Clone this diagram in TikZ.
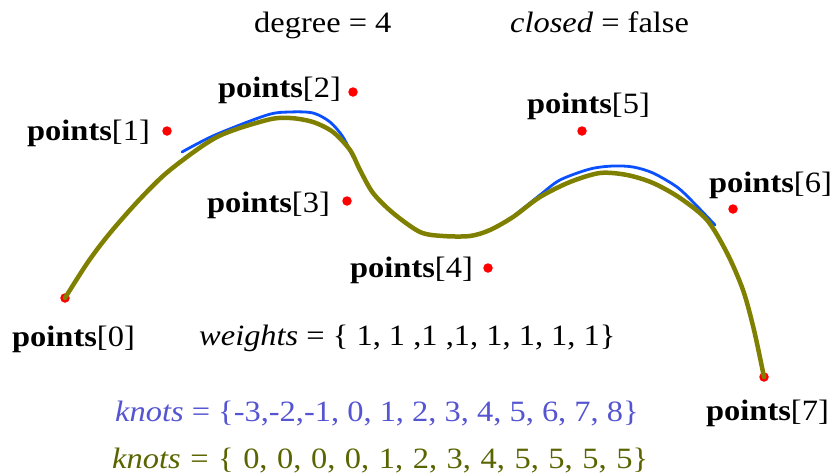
\documentclass[tikz,border=0pt]{standalone}
\usepackage{fontspec}
\setmainfont{Liberation Serif}[FakeStretch=1.1]
\newfontfamily\widespaced{Liberation Serif}[FakeStretch=1.1,WordSpace=1.18]
\definecolor{curveolive}{RGB}{128,128,0}
\definecolor{curveblue}{RGB}{10,80,255}
\definecolor{knotblue}{RGB}{85,85,210}
\definecolor{knotolive}{RGB}{90,100,0}
\begin{document}
\begin{tikzpicture}[x=1pt,y=-1pt,
  lab/.style={anchor=base west, inner sep=0pt, font=\fontsize{29.5}{31}\selectfont},
  ctrl/.style={circle, fill=red, inner sep=0pt, minimum size=9.5pt},
  olivecurve/.style={curveolive, line width=4.5pt, line join=round, line cap=round},
  bluecurve/.style={curveblue, line width=2.8pt, line join=round, line cap=round}]
\useasboundingbox (0,0) rectangle (831,474);

% control points
\node[ctrl] (p0) at (65,298) {};
\node[ctrl] (p1) at (167,131) {};
\node[ctrl] (p2) at (353,92) {};
\node[ctrl] (p3) at (347,201) {};
\node[ctrl] (p4) at (488,268) {};
\node[ctrl] (p5) at (582,131) {};
\node[ctrl] (p6) at (733,209) {};
\node[ctrl] (p7) at (764,377) {};

% curves
\draw[bluecurve] plot[smooth] coordinates {(182,152) (215,135) (267,115) (290,112) (313,113) (330,122) (343,137) (353,157)};
\draw[bluecurve] plot[smooth] coordinates {(515,215) (540,195) (560,180) (590,169) (613,166) (633,167) (653,173) (677,187) (693,202) (715,225)};
\draw[olivecurve] plot[smooth] coordinates {(p0.center) (88,262) (110,233) (140,199) (170,170) (217,137) (267,120) (290,118) (313,122) (333,132) (350,150) (360,170) (373,193) (393,213) (420,232) (443,236) (470,236) (490,230) (513,217) (540,197) (570,182) (600,173) (627,175) (653,183) (680,198) (707,220) (727,253) (743,290) (754,330) (p7.center)};

% labels
\node[lab] (deg) at (254,32) {degree = 4};
\node[lab] (clo) at (510,32) {\textit{closed} = false};
\node[lab] (l0) at (12,346) {\textbf{points}[0]};
\node[lab] (l1) at (27,140) {\textbf{points}[1]};
\node[lab] (l2) at (218,97) {\textbf{points}[2]};
\node[lab] (l3) at (207,212) {\textbf{points}[3]};
\node[lab] (l4) at (350,277) {\textbf{points}[4]};
\node[lab] (l5) at (527,113) {\textbf{points}[5]};
\node[lab] (l6) at (709,192) {\textbf{points}[6]};
\node[lab] (l7) at (706,420) {\textbf{points}[7]};
\node[lab] (w) at (199,345) {\textit{weights} = \{ 1, 1 ,1 ,1, 1, 1, 1, 1\}};
\node[lab, text=knotblue] (kb) at (115,421) {\textit{knots} = \{-3,-2,-1, 0, 1, 2, 3, 4, 5, 6, 7, 8\}};
\node[lab, text=knotolive] (ko) at (112,468) {\widespaced\textit{knots} = \{ 0, 0, 0, 0, 1, 2, 3, 4, 5, 5, 5, 5\}};
\end{tikzpicture}
\end{document}
